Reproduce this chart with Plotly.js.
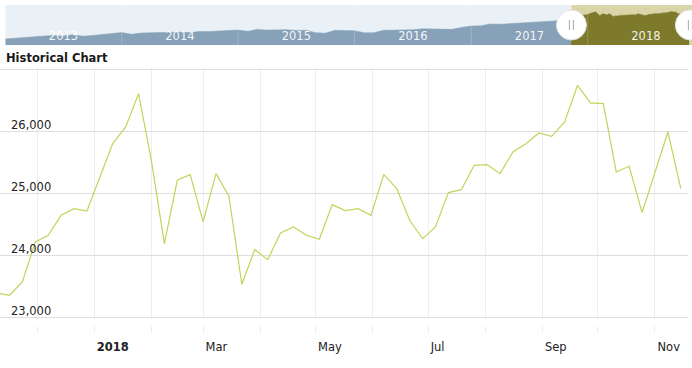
<!DOCTYPE html>
<html>
<head>
<meta charset="utf-8">
<script src="https://cdn.plot.ly/plotly-3.0.1.min.js"></script>
<style>html,body{margin:0;padding:0;background:#fff;}#chart{width:692px;height:368px;}</style>
</head>
<body>
<div id="chart"></div>
<script>
// ---- main chart data (weekly closes) ----
const mainDates = ['2017-11-09','2017-11-16','2017-11-23','2017-11-30','2017-12-07','2017-12-14','2017-12-21','2017-12-28',
'2018-01-04','2018-01-11','2018-01-18','2018-01-25','2018-02-01','2018-02-08','2018-02-15','2018-02-22',
'2018-03-01','2018-03-08','2018-03-15','2018-03-22','2018-03-29','2018-04-05','2018-04-12','2018-04-19','2018-04-26',
'2018-05-03','2018-05-10','2018-05-17','2018-05-24','2018-05-31','2018-06-07','2018-06-14','2018-06-21','2018-06-28',
'2018-07-05','2018-07-12','2018-07-19','2018-07-26','2018-08-02','2018-08-09','2018-08-16','2018-08-23','2018-08-30',
'2018-09-06','2018-09-13','2018-09-20','2018-09-27','2018-10-04','2018-10-11','2018-10-18','2018-10-25',
'2018-11-01','2018-11-08','2018-11-15'];
const mainValues = [23390,23355,23570,24215,24323,24645,24753,24715,
25260,25801,26070,26607,25520,24188,25210,25301,
24538,25317,24952,23532,24092,23930,24360,24457,24323,
24258,24817,24720,24753,24645,25301,25075,24565,24269,
24457,25011,25059,25452,25462,25317,25667,25801,25973,
25919,26150,26742,26457,26446,25344,25436,24688,
25320,25989,25075];

// ---- navigator data (monthly, 2013 -> Nov 2017) ----
const navDates = ['2013-01-01','2013-02-01','2013-03-01','2013-04-01','2013-05-01','2013-06-01','2013-07-01','2013-08-01','2013-09-01','2013-10-01','2013-11-01','2013-12-01',
'2014-01-01','2014-02-01','2014-03-01','2014-04-01','2014-05-01','2014-06-01','2014-07-01','2014-08-01','2014-09-01','2014-10-01','2014-11-01','2014-12-01',
'2015-01-01','2015-02-01','2015-03-01','2015-04-01','2015-05-01','2015-06-01','2015-07-01','2015-08-01','2015-09-01','2015-10-01','2015-11-01','2015-12-01',
'2016-01-01','2016-02-01','2016-03-01','2016-04-01','2016-05-01','2016-06-01','2016-07-01','2016-08-01','2016-09-01','2016-10-01','2016-11-01','2016-12-01',
'2017-01-01','2017-02-01','2017-03-01','2017-04-01','2017-05-01','2017-06-01','2017-07-01','2017-08-01','2017-09-01','2017-10-01','2017-11-01','2017-11-09'];
const navValues = [13400,13860,14050,14580,14840,15120,14910,15500,14810,15130,15550,16090,
16580,15700,16320,16460,16580,16720,16830,16560,17100,17040,17390,17830,
17820,17160,18130,17780,17840,18010,17620,17690,16530,16280,17660,17720,
17420,16470,16520,17690,17770,17790,17930,18430,18400,18310,18140,19120,
19760,19860,20810,20660,20940,21010,21350,21890,21950,22400,23380,23390];

// ---- axis labels ----
const monthTicks = ['2017-12-01','2018-01-01','2018-02-01','2018-03-01','2018-04-01','2018-05-01','2018-06-01',
'2018-07-01','2018-08-01','2018-09-01','2018-10-01','2018-11-01'];
const monthLabels = ['','<b>2018</b>','','Mar','','May','','Jul','','Sep','','Nov'];
const yTicks = [23000,24000,25000,26000,27000];
const yLabels = ['23,000','24,000','25,000','26,000',''];
const navYears = ['2014-01-01','2015-01-01','2016-01-01','2017-01-01','2018-01-01'];

const mainRange = ['2017-11-10 21:00','2018-11-18 21:36'];
const navRange = ['2013-01-01','2018-11-24'];
const FONT = 'DejaVu Sans, Verdana, sans-serif';

// y range padded slightly so the 23,000 / 27,000 gridlines are drawn
const yPad = 20;
const pxPerUnit = 248 / 4000;
const yBottomPx = 317.3 + yPad * pxPerUnit, yTopPx = 69.3 - yPad * pxPerUnit;

const traces = [
  {x: navDates, y: navValues, xaxis:'x2', yaxis:'y2', type:'scatter', mode:'lines',
   line:{color:'#87a2b8', width:0.5}, fill:'tozeroy', fillcolor:'#87a2b8', hoverinfo:'skip'},
  {x: mainDates, y: mainValues, xaxis:'x2', yaxis:'y3', type:'scatter', mode:'lines',
   line:{color:'#7e7a2c', width:0.5}, fill:'tozeroy', fillcolor:'#7e7a2c', hoverinfo:'skip'},
  {x: mainDates, y: mainValues, xaxis:'x', yaxis:'y', type:'scatter', mode:'lines',
   line:{color:'#c2d45c', width:1.2}}
];

const shapes = [
  {type:'rect', xref:'x2', yref:'y2 domain', x0:navRange[0], x1:mainRange[0], y0:0, y1:1,
   fillcolor:'#e9f0f6', line:{width:0}, layer:'below'},
  {type:'rect', xref:'x2', yref:'y2 domain', x0:mainRange[0], x1:navRange[1], y0:0, y1:1,
   fillcolor:'#d9d5a9', line:{width:0}, layer:'below'}
];
navYears.forEach(d => shapes.push({type:'line', xref:'x2', yref:'y2 domain', x0:d, x1:d, y0:0, y1:1,
  line:{color:'rgba(255,255,255,0.18)', width:1}, layer:'above'}));
mainRange.forEach(d => {
  shapes.push({type:'circle', xref:'x2', yref:'y2 domain',
    xsizemode:'pixel', ysizemode:'pixel', xanchor:d, yanchor:0.5, x0:-15, x1:15, y0:-15, y1:15,
    fillcolor:'#ffffff', line:{color:'#e2e2e2', width:1}, layer:'above'});
  [-2, 2].forEach(off => shapes.push({type:'line', xref:'x2', yref:'y2 domain',
    xsizemode:'pixel', ysizemode:'pixel', xanchor:d, yanchor:0.5, x0:off, x1:off, y0:-5, y1:5,
    line:{color:'#a8a8a8', width:1}, layer:'above'}));
});

const annotations = [];
yTicks.forEach((v, i) => {
  if (!yLabels[i]) return;
  annotations.push({xref:'paper', yref:'y', x:9/692, y:v, xanchor:'left', yanchor:'middle', yshift:6,
    text:yLabels[i], showarrow:false, font:{family:FONT, size:11.5, color:'#222'}});
});

const layout = {
  width:692, height:368, margin:{l:0,r:0,t:0,b:0,pad:0},
  paper_bgcolor:'#ffffff', plot_bgcolor:'rgba(0,0,0,0)',
  showlegend:false, font:{family:FONT, size:11, color:'#333'},
  title:{text:'<b>Historical Chart</b>', x:6/692, xanchor:'left', y:(368-58)/368, yanchor:'middle',
    font:{family:FONT, size:11.5, color:'#1a1a1a'}},
  xaxis:{type:'date', domain:[0, 688/692], range:mainRange, anchor:'free', position:(368-325)/368,
    tickmode:'array', tickvals:monthTicks, ticktext:monthLabels,
    showgrid:true, gridcolor:'#eeeeee', gridwidth:1, zeroline:false, showline:false,
    ticks:'outside', ticklen:7, tickcolor:'#eeeeee',
    ticklabelposition:'outside right', ticklabelshift:2, ticklabelstandoff:11,
    tickfont:{family:FONT, size:11.5, color:'#222'}, fixedrange:true},
  yaxis:{domain:[(368-yBottomPx)/368, (368-yTopPx)/368], range:[23000-yPad, 27000+yPad],
    tickmode:'array', tickvals:yTicks, showticklabels:false,
    showgrid:true, gridcolor:'#dedede', gridwidth:1, zeroline:false, showline:false, ticks:'',
    fixedrange:true},
  xaxis2:{type:'date', domain:[5.3/692, 1], range:navRange, anchor:'y2',
    tickmode:'linear', tick0:'2013-01-01', dtick:'M12', ticklabelmode:'period',
    ticklabelposition:'inside', ticks:'', showgrid:false, zeroline:false, showline:false,
    tickfont:{family:FONT, size:11.5, color:'rgba(255,255,255,0.92)'}, layer:'above traces', fixedrange:true},
  yaxis2:{domain:[(368-45)/368, (368-5)/368], range:[10450,30130], anchor:'x2', visible:false, fixedrange:true},
  yaxis3:{domain:[(368-45)/368, (368-5)/368], range:[6000,30800], anchor:'x2', overlaying:'y2', visible:false, fixedrange:true},
  shapes: shapes,
  annotations: annotations
};

Plotly.newPlot('chart', traces, layout, {displayModeBar:false, staticPlot:true});
</script>
</body>
</html>
